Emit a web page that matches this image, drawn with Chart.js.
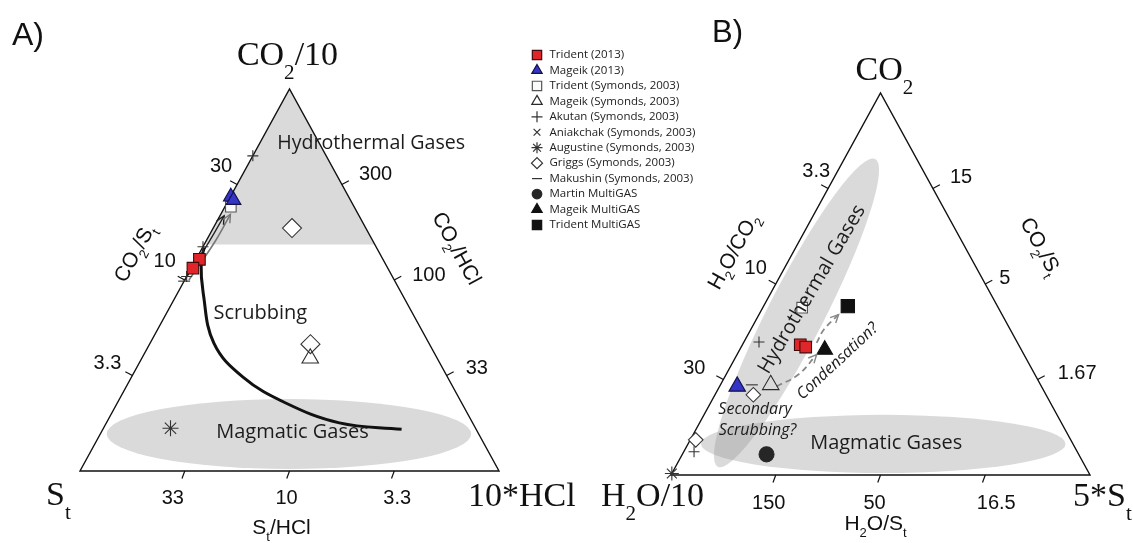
<!DOCTYPE html>
<html>
<head>
<meta charset="utf-8">
<script src="https://cdn.jsdelivr.net/npm/chart.js@4.4.1/dist/chart.umd.min.js"></script>
<style>
  html, body { margin: 0; padding: 0; background: #fff; }
  #wrap { position: relative; width: 1133px; height: 543px; }
  #wrap canvas { position: absolute; left: 0; top: 0; }
</style>
</head>
<body>
<div id="wrap">
  <canvas id="chartA" width="1133" height="543"></canvas>
  <canvas id="chartB" width="1133" height="543"></canvas>
</div>
<script>
// every composition is [top, left, right] as fractions of the triangle corners

var seriesNames = ['Trident (2013)', 'Mageik (2013)', 'Trident (Symonds, 2003)', 'Mageik (Symonds, 2003)',
  'Akutan (Symonds, 2003)', 'Aniakchak (Symonds, 2003)', 'Augustine (Symonds, 2003)', 'Griggs (Symonds, 2003)',
  'Makushin (Symonds, 2003)', 'Martin MultiGAS', 'Mageik MultiGAS', 'Trident MultiGAS'];

// A) CO2/10 - St - 10*HCl
var aTrident2013 = [[0.554, 0.438, 0.008], [0.531, 0.465, 0.004]];
var aMageik2013 = [[0.718, 0.281, 0.001], [0.709, 0.279, 0.012]];
var aTridentSym = [[0.692, 0.294, 0.014]];
var aMageikSym = [[0.295, 0.303, 0.402]];
var aAkutan = [[0.825, 0.175, 0.0], [0.587, 0.413, 0.0], [0.509, 0.491, 0.0]];
var aAniakchak = [];
var aAugustine = [[0.112, 0.728, 0.160]];
var aGriggs = [[0.636, 0.176, 0.188], [0.332, 0.284, 0.384]];
var aMakushin = [[0.497, 0.503, 0.0]];
var aMartinMG = [];
var aMageikMG = [];
var aTridentMG = [];
var aScrubbingPath = [[0.585, 0.411, 0.004], [0.547, 0.4375, 0.0155], [0.466, 0.473, 0.061], [0.335, 0.513, 0.152],
  [0.246, 0.488, 0.266], [0.178, 0.420, 0.402], [0.126, 0.318, 0.556], [0.109, 0.178, 0.713]];
var aArrowBlack = [[0.497, 0.503, 0.0], [0.600, 0.392, 0.008], [0.668, 0.322, 0.010]];
var aArrowGray = [[0.500, 0.490, 0.010], [0.600, 0.378, 0.022], [0.672, 0.305, 0.023]];

// B) CO2 - H2O/10 - 5*St
var bTrident2013 = [[0.341, 0.521, 0.138], [0.335, 0.511, 0.154]];
var bMageik2013 = [[0.232, 0.726, 0.042]];
var bTridentSym = [[0.438, 0.468, 0.094]];
var bMageikSym = [[0.236, 0.644, 0.120]];
var bAkutan = [[0.348, 0.616, 0.036], [0.061, 0.9145, 0.0245]];
var bAniakchak = [];
var bAugustine = [[0.004, 0.996, 0.0]];
var bGriggs = [[0.210, 0.6985, 0.0915], [0.092, 0.895, 0.013]];
var bMakushin = [[0.236, 0.689, 0.075]];
var bMartinMG = [[0.054, 0.745, 0.201]];
var bMageikMG = [[0.328, 0.469, 0.203]];
var bTridentMG = [[0.442, 0.357, 0.201]];
var bCondensation1 = [[0.232, 0.632, 0.136], [0.263, 0.5645, 0.1725], [0.315, 0.495, 0.190]];
var bCondensation2 = [[0.346, 0.4795, 0.1745], [0.381, 0.4445, 0.1745], [0.420, 0.390, 0.190]];

// tick labels, placed at 1/4, 1/2, 3/4 along each edge
var tickAt = [0.25, 0.5, 0.75];
var aLeftTicks = ['3.3', '10', '30'];
var aRightTicks = ['33', '100', '300'];
var aBottomTicks = ['33', '10', '3.3'];
var bLeftTicks = ['30', '10', '3.3'];
var bRightTicks = ['1.67', '5', '15'];
var bBottomTicks = ['150', '50', '16.5'];

var aSeries = [aTrident2013, aMageik2013, aTridentSym, aMageikSym, aAkutan, aAniakchak, aAugustine, aGriggs, aMakushin, aMartinMG, aMageikMG, aTridentMG];
var bSeries = [bTrident2013, bMageik2013, bTridentSym, bMageikSym, bAkutan, bAniakchak, bAugustine, bGriggs, bMakushin, bMartinMG, bMageikMG, bTridentMG];

var markers = [
  {pointStyle: 'rect', radius: 8.2, legend: 6.6, bg: '#e0262a', border: '#3d0b0b'},
  {pointStyle: 'triangle', radius: 8.5, radiusB: 9.5, legend: 6, bg: '#3434c8', border: '#121245'},
  {pointStyle: 'rect', radius: 7.5, legend: 6.6, bg: '#fafafa', border: '#555555'},
  {pointStyle: 'triangle', radius: 9.5, legend: 6, bg: 'rgba(255,255,255,0)', border: '#2b2b2b'},
  {pointStyle: 'cross', radius: 5.5, legend: 5.5, bg: 'rgba(0,0,0,0)', border: '#333333'},
  {pointStyle: 'crossRot', radius: 5, legend: 4.8, bg: 'rgba(0,0,0,0)', border: '#333333'},
  {pointStyle: 'star', radius: 8, radiusB: 7, legend: 5.5, bg: 'rgba(0,0,0,0)', border: '#333333'},
  {pointStyle: 'rectRot', radius: 9.5, radiusB: 7.3, legend: 5.5, bg: '#ffffff', border: '#333333'},
  {pointStyle: 'line', radius: 6, legend: 5, bg: 'rgba(0,0,0,0)', border: '#333333'},
  {pointStyle: 'circle', radius: 7.5, legend: 4.8, bg: '#262626', border: '#262626'},
  {pointStyle: 'triangle', radius: 9, legend: 6, bg: '#111111', border: '#111111'},
  {pointStyle: 'rect', radius: 9.4, legend: 6.6, bg: '#111111', border: '#111111'}
];

function toXY(p) { return {x: p[2] + p[0] / 2, y: p[0]}; }

function drawRich(ctx, parts, x, y, o) {
  var size = o.size, subSize = size * (o.subScale || 0.62);
  var pieces = parts.map(function (p) {
    var sub = Array.isArray(p), s = sub ? p[0] : p;
    ctx.font = (o.style || '') + ' ' + (sub ? subSize : size) + 'px ' + o.family;
    return {s: s, sub: sub, w: ctx.measureText(s).width};
  });
  var total = pieces.reduce(function (a, p) { return a + p.w; }, 0);
  ctx.save();
  ctx.translate(x, y);
  if (o.angle) ctx.rotate(o.angle * Math.PI / 180);
  var cx = o.align === 'left' ? 0 : (o.align === 'right' ? -total : -total / 2);
  var base = o.middle ? size * 0.35 : 0;
  ctx.textAlign = 'left';
  ctx.textBaseline = 'alphabetic';
  ctx.fillStyle = o.color || '#111';
  pieces.forEach(function (p) {
    ctx.font = (o.style || '') + ' ' + (p.sub ? subSize : size) + 'px ' + o.family;
    ctx.fillText(p.s, cx, base + (p.sub ? size * (o.subShift || 0.3) : 0));
    cx += p.w;
  });
  ctx.restore();
}

function drawLabel(ctx, L, px) {
  ctx.save();
  ctx.translate(px[0], px[1]);
  if (L.angle) ctx.rotate(L.angle * Math.PI / 180);
  ctx.font = (L.style || '') + ' ' + L.size + 'px ' + L.family;
  ctx.fillStyle = '#1c1c1c';
  ctx.textAlign = 'center';
  ctx.textBaseline = 'middle';
  if (L.maxWidth) ctx.fillText(L.text, 0, 0, L.maxWidth); else ctx.fillText(L.text, 0, 0);
  ctx.restore();
}

var edgePoint = {
  left: function (t) { return [t / 2, t]; },
  right: function (t) { return [1 - t / 2, t]; },
  bottom: function (t) { return [t, 0]; }
};

function ternaryPlugin(cfg) {
  return {
    id: 'ternary_' + cfg.name,
    beforeDatasetsDraw: function (chart) {
      var ctx = chart.ctx, sx = chart.scales.x, sy = chart.scales.y;
      var P = function (x, y) { return [sx.getPixelForValue(x), sy.getPixelForValue(y)]; };
      var ux = sx.getPixelForValue(1) - sx.getPixelForValue(0);
      var uy = sy.getPixelForValue(0) - sy.getPixelForValue(1);
      ctx.save();
      cfg.regions.forEach(function (r) {
        ctx.fillStyle = r.color;
        ctx.beginPath();
        if (r.type === 'cap') {
          var a = P(r.level / 2, r.level), t = P(0.5, 1), b = P(1 - r.level / 2, r.level);
          ctx.moveTo(a[0], a[1]); ctx.lineTo(t[0], t[1]); ctx.lineTo(b[0], b[1]); ctx.closePath();
        } else if (r.type === 'ellipse') {
          var c = P(r.cx, r.cy);
          ctx.ellipse(c[0], c[1], r.rx * ux, r.ry * uy, 0, 0, Math.PI * 2);
        } else {
          var p1 = P(r.from[0], r.from[1]), p2 = P(r.to[0], r.to[1]);
          var dx = p2[0] - p1[0], dy = p2[1] - p1[1];
          ctx.ellipse((p1[0] + p2[0]) / 2, (p1[1] + p2[1]) / 2, Math.sqrt(dx * dx + dy * dy) / 2, r.halfWidth, Math.atan2(dy, dx), 0, Math.PI * 2);
        }
        ctx.fill();
      });
      // triangle frame
      var L = P(0, 0), R = P(1, 0), T = P(0.5, 1);
      ctx.beginPath();
      ctx.moveTo(L[0], L[1]); ctx.lineTo(R[0], R[1]); ctx.lineTo(T[0], T[1]); ctx.closePath();
      ctx.lineWidth = 1.4; ctx.strokeStyle = '#111'; ctx.lineJoin = 'miter'; ctx.stroke();
      // tick marks and tick labels
      var norm = function (v) { var l = Math.sqrt(v[0] * v[0] + v[1] * v[1]); return [v[0] / l, v[1] / l]; };
      var dirs = {
        left: norm([T[1] - L[1], -(T[0] - L[0])]),
        right: norm([-(T[1] - R[1]), T[0] - R[0]]),
        bottom: norm([-0.34, 0.94])
      };
      ctx.lineWidth = 1.2;
      ctx.font = '20px "Liberation Sans", Arial, sans-serif';
      ctx.fillStyle = '#111';
      ctx.textBaseline = 'middle';
      ['left', 'right', 'bottom'].forEach(function (edge) {
        var labels = cfg.ticks[edge], offs = cfg.tickOffset[edge];
        tickAt.forEach(function (t, i) {
          var q = edgePoint[edge](t), p = P(q[0], q[1]), d = dirs[edge], off = offs[i];
          ctx.beginPath();
          ctx.moveTo(p[0], p[1]); ctx.lineTo(p[0] + d[0] * 8, p[1] + d[1] * 8); ctx.stroke();
          ctx.textAlign = edge === 'left' ? 'right' : (edge === 'right' ? 'left' : 'center');
          ctx.fillText(labels[i], p[0] + off[0], p[1] + off[1]);
        });
      });
      // edge titles
      var mids = {left: P(0.25, 0.5), right: P(0.75, 0.5), bottom: P(0.5, 0)};
      cfg.titles.forEach(function (tt) {
        var m = mids[tt.edge];
        drawRich(ctx, tt.parts, m[0] + tt.off[0], m[1] + tt.off[1],
          {size: 21, family: '"Liberation Sans", Arial, sans-serif', angle: tt.angle, middle: true, subShift: 0.3});
      });
      // corner labels
      var corners = {top: T, left: L, right: R};
      cfg.corners.forEach(function (cc) {
        var v = corners[cc.at];
        drawRich(ctx, cc.parts, v[0] + cc.off[0], v[1] + cc.off[1],
          {size: 34, family: '"Liberation Serif", "Times New Roman", serif', align: cc.align, subScale: 0.62, subShift: 0.42});
      });
      ctx.restore();
    },
    afterDatasetsDraw: function (chart) {
      var ctx = chart.ctx, sx = chart.scales.x, sy = chart.scales.y;
      ctx.save();
      chart.data.datasets.forEach(function (ds, i) {
        if (!ds.arrowHead) return;
        var pts = chart.getDatasetMeta(i).data, n = pts.length;
        var a = pts[n - 2], b = pts[n - 1];
        var ang = Math.atan2(b.y - a.y, b.x - a.x), len = 9, spread = 0.45;
        ctx.beginPath();
        ctx.moveTo(b.x - len * Math.cos(ang - spread), b.y - len * Math.sin(ang - spread));
        ctx.lineTo(b.x, b.y);
        ctx.lineTo(b.x - len * Math.cos(ang + spread), b.y - len * Math.sin(ang + spread));
        ctx.setLineDash([]);
        ctx.lineWidth = 1.4;
        ctx.strokeStyle = ds.borderColor;
        ctx.stroke();
      });
      cfg.labels.forEach(function (L) {
        drawLabel(ctx, L, [sx.getPixelForValue(L.x), sy.getPixelForValue(L.y)]);
      });
      drawRich(ctx, [cfg.letter.text], cfg.letter.x, cfg.letter.y,
        {size: cfg.letter.size, family: '"Liberation Sans", Arial, sans-serif', align: 'left'});
      ctx.restore();
    },
    afterDraw: function (chart) {
      if (!cfg.legend) return;
      var ctx = chart.ctx, lg = cfg.legend;
      ctx.save();
      seriesNames.forEach(function (name, i) {
        var m = markers[i], y = lg.y + i * lg.step;
        ctx.fillStyle = m.bg; ctx.strokeStyle = m.border; ctx.lineWidth = 1.2;
        if (Chart.helpers && Chart.helpers.drawPoint) {
          Chart.helpers.drawPoint(ctx, {pointStyle: m.pointStyle, radius: m.legend, rotation: 0, borderWidth: 1.2}, lg.x, y);
        }
        ctx.font = '11.5px "Open Sans", sans-serif';
        ctx.fillStyle = '#222';
        ctx.textAlign = 'left';
        ctx.textBaseline = 'middle';
        ctx.fillText(name, lg.x + 12.5, y, 146);
      });
      ctx.restore();
    }
  };
}

function buildDatasets(series, curves, panel) {
  var ds = series.map(function (arr, i) {
    var m = markers[i];
    return {
      label: seriesNames[i], data: arr.map(toXY), showLine: false, clip: false,
      pointStyle: m.pointStyle, pointRadius: (panel === 'B' && m.radiusB) ? m.radiusB : m.radius,
      backgroundColor: m.bg, borderColor: m.border, borderWidth: 1.1
    };
  });
  curves.forEach(function (c) {
    ds.push({
      label: c.name, data: c.data.map(toXY), showLine: true, clip: false, pointRadius: 0,
      borderColor: c.color, borderWidth: c.width, borderDash: c.dash || [], tension: 0.4,
      fill: false, arrowHead: c.arrow
    });
  });
  return ds;
}

function makeChart(cfg) {
  return new Chart(document.getElementById(cfg.canvas), {
    type: 'scatter',
    data: {datasets: buildDatasets(cfg.series, cfg.curves, cfg.name)},
    options: {
      responsive: false, animation: false, devicePixelRatio: 1, events: [],
      layout: {padding: cfg.pad},
      scales: {
        x: {type: 'linear', min: 0, max: 1, display: false},
        y: {type: 'linear', min: 0, max: 1, display: false}
      },
      plugins: {legend: {display: false}, tooltip: {enabled: false}}
    },
    plugins: [ternaryPlugin(cfg)]
  });
}

var regionFont = '"Open Sans", "Noto Sans", sans-serif';

makeChart({
  name: 'A', canvas: 'chartA',
  pad: {left: 80, right: 634, top: 89, bottom: 72},
  series: aSeries,
  curves: [
    {name: 'scrubbing', data: aScrubbingPath, color: '#111', width: 3},
    {name: 'arrowBlack', data: aArrowBlack, color: '#222', width: 1.3, arrow: true},
    {name: 'arrowGray', data: aArrowGray, color: '#777', width: 1.6, arrow: true}
  ],
  regions: [
    {type: 'cap', level: 0.593, color: '#dadada'},
    {type: 'ellipse', cx: 0.4987, cy: 0.0969, rx: 0.435, ry: 0.0916, color: '#dadada'}
  ],
  ticks: {left: aLeftTicks, right: aRightTicks, bottom: aBottomTicks},
  tickOffset: {
    left: [[-11, -12], [-9, -19], [-5, -18]],
    right: [[19, -7], [18, -5], [17, -10]],
    bottom: [[-12, 27], [-3, 27], [3, 27]]
  },
  titles: [
    {edge: 'left', parts: ['CO', ['2'], '/S', ['t']], off: [-51, -27], angle: -61.2},
    {edge: 'right', parts: ['CO', ['2'], '/HCl'], off: [63, -32], angle: 61.2},
    {edge: 'bottom', parts: ['S', ['t'], '/HCl'], off: [-8, 56], angle: 0}
  ],
  corners: [
    {at: 'top', parts: ['CO', ['2'], '/10'], off: [-2, -24], align: 'center'},
    {at: 'left', parts: ['S', ['t']], off: [-34, 34], align: 'left'},
    {at: 'right', parts: ['10*HCl'], off: [-31, 35], align: 'left'}
  ],
  labels: [
    {text: 'Hydrothermal Gases', x: 0.695, y: 0.858, size: 20, family: regionFont, maxWidth: 188},
    {text: 'Scrubbing', x: 0.4304, y: 0.413, size: 20, family: regionFont, maxWidth: 95},
    {text: 'Magmatic Gases', x: 0.507, y: 0.1003, size: 20, family: regionFont, maxWidth: 153}
  ],
  letter: {text: 'A)', x: 12, y: 45, size: 32},
  legend: {x: 537, y: 55, step: 15.45}
});

makeChart({
  name: 'B', canvas: 'chartB',
  pad: {left: 671, right: 43, top: 93, bottom: 68},
  series: bSeries,
  curves: [
    {name: 'condensation1', data: bCondensation1, color: '#888', width: 1.8, dash: [6, 4], arrow: true},
    {name: 'condensation2', data: bCondensation2, color: '#888', width: 1.8, dash: [6, 4], arrow: true}
  ],
  regions: [
    {type: 'ellipse', cx: 0.5066, cy: 0.0814, rx: 0.435, ry: 0.076, color: 'rgba(150,150,150,0.35)'},
    {type: 'rotated', from: [0.1116, 0.0218], to: [0.4874, 0.8274], halfWidth: 28, color: 'rgba(150,150,150,0.35)'}
  ],
  ticks: {left: bLeftTicks, right: bRightTicks, bottom: bBottomTicks},
  tickOffset: {
    left: [[-18, -11.5], [-9, -16], [2, -17]],
    right: [[20, -6.5], [14, -6], [17, -11]],
    bottom: [[-7, 28], [-6, 28], [11, 28]]
  },
  titles: [
    {edge: 'left', parts: ['H', ['2'], 'O/CO', ['2']], off: [-43, -33], angle: -61.2},
    {edge: 'right', parts: ['CO', ['2'], '/S', ['t']], off: [56, -38], angle: 61.2},
    {edge: 'bottom', parts: ['H', ['2'], 'O/S', ['t']], off: [-5, 48], angle: 0}
  ],
  corners: [
    {at: 'top', parts: ['CO', ['2']], off: [4, -13], align: 'center'},
    {at: 'left', parts: ['H', ['2'], 'O/10'], off: [-70, 31], align: 'left'},
    {at: 'right', parts: ['5*S', ['t']], off: [-17, 31], align: 'left'}
  ],
  labels: [
    {text: 'Hydrothermal Gases', x: 0.3367, y: 0.486, size: 20, family: regionFont, angle: -59.5, maxWidth: 192},
    {text: 'Condensation?', x: 0.3978, y: 0.2976, size: 16, family: regionFont, style: 'italic', angle: -43, maxWidth: 108},
    {text: 'Secondary', x: 0.2007, y: 0.1707, size: 16, family: regionFont, style: 'italic', maxWidth: 76},
    {text: 'Scrubbing?', x: 0.2065, y: 0.1164, size: 16, family: regionFont, style: 'italic', maxWidth: 80},
    {text: 'Magmatic Gases', x: 0.5136, y: 0.0833, size: 20, family: regionFont, maxWidth: 152}
  ],
  letter: {text: 'B)', x: 712, y: 42, size: 31}
});
</script>
</body>
</html>
